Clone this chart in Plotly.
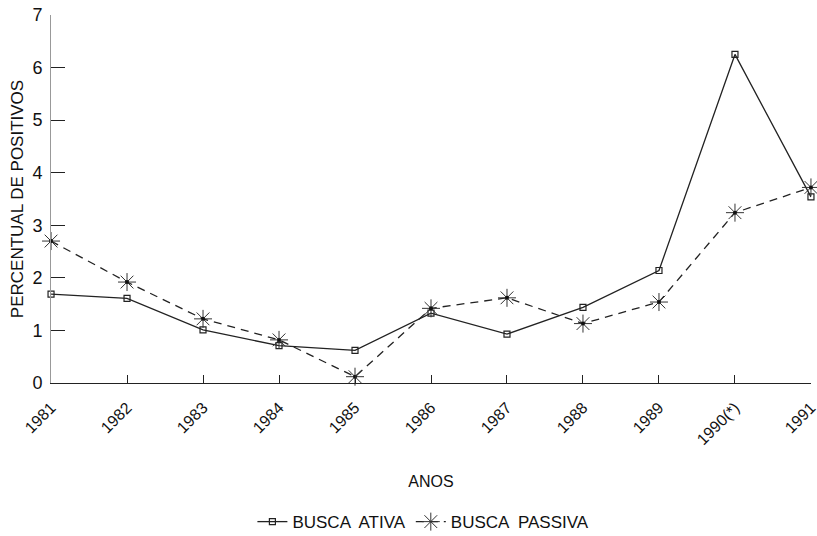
import plotly.graph_objects as go

anos = ["1981", "1982", "1983", "1984", "1985", "1986", "1987", "1988", "1989", "1990(*)", "1991"]
busca_ativa = [1.69, 1.61, 1.01, 0.71, 0.62, 1.33, 0.93, 1.44, 2.14, 6.25, 3.54]
busca_passiva = [2.70, 1.92, 1.22, 0.82, 0.12, 1.42, 1.62, 1.13, 1.54, 3.24, 3.72]
y_ticks = [0, 1, 2, 3, 4, 5, 6, 7]

x_idx = list(range(len(anos)))

fig = go.Figure()
fig.add_trace(go.Scatter(
    x=x_idx, y=busca_ativa, name="BUSCA  ATIVA", mode="lines+markers",
    line=dict(color="#222", width=1.3),
    marker=dict(symbol="square-open", size=6, color="#222", line=dict(width=1.2)),
    cliponaxis=False,
))
fig.add_trace(go.Scatter(
    x=x_idx, y=busca_passiva, name="BUSCA  PASSIVA", mode="lines+markers",
    line=dict(color="#222", width=1.3, dash="8px,6px"),
    marker=dict(symbol="asterisk-open", size=15, color="#333", line=dict(width=1, color="#333")),
    cliponaxis=False,
))
fig.add_trace(go.Scatter(
    x=x_idx, y=busca_passiva, mode="markers", showlegend=False, hoverinfo="skip",
    marker=dict(symbol="circle", size=4, color="#111"), cliponaxis=False,
))

fig.update_layout(
    width=817, height=536,
    margin=dict(l=51, r=6, t=15, b=153),
    paper_bgcolor="white", plot_bgcolor="white",
    font=dict(family="Liberation Sans, Arial, sans-serif", color="#111", size=16),
    showlegend=True,
    legend=dict(orientation="h", x=0.49, xanchor="center", yref="container", y=0.026,
                yanchor="middle", font=dict(size=17), itemwidth=30, tracegroupgap=0),
    xaxis=dict(
        range=[-0.0005, 10.0005], tickmode="array", tickvals=x_idx, ticktext=anos,
        tickangle=-45, ticks="inside", ticklen=8, tickcolor="#222",
        showline=True, linecolor="#222", linewidth=1.3, showgrid=False, zeroline=False,
        tickfont=dict(size=16), automargin=False, ticklabelstandoff=8,
        ticklabeloverflow="allow",
        title=dict(text="ANOS", font=dict(size=16), standoff=28),
    ),
    yaxis=dict(
        range=[0, 7], tickvals=y_ticks, ticks="inside", ticklen=14, tickcolor="#222",
        showline=True, linecolor="#999", linewidth=1, showgrid=False, zeroline=False,
        tickfont=dict(size=18), automargin=False, ticklabelstandoff=4,
        title=dict(text="PERCENTUAL DE POSITIVOS", font=dict(size=17), standoff=4),
    ),
)

fig.write_html("out.html", config={"displayModeBar": False},
               post_script="document.body.style.margin='0';document.body.style.overflow='hidden';")
